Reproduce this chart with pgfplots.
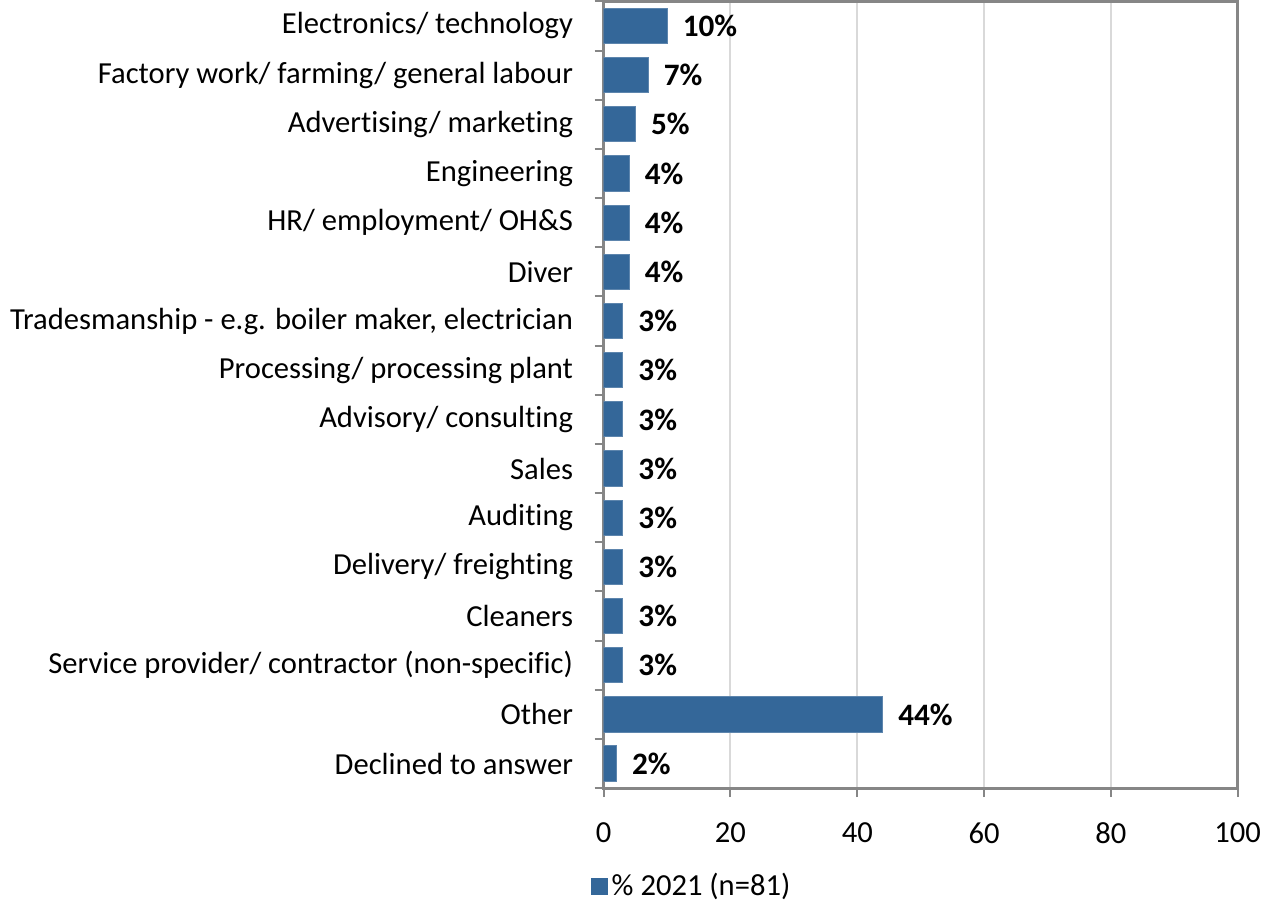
\documentclass[border=0pt]{standalone}
\usepackage{fontspec}
\setmainfont{Carlito}[Ligatures=CommonOff]
\usepackage{pgfplots}
\pgfplotsset{compat=1.18}
\definecolor{barblue}{RGB}{52,103,153}
\definecolor{axgray}{RGB}{134,134,134}
\definecolor{gridgray}{RGB}{217,217,217}
\begin{document}
\fontsize{15.2}{18}\selectfont
\begin{tikzpicture}
\begin{axis}[
    width=315pt, height=391pt, scale only axis,
    xbar, bar width=17.5pt,
    xmin=0, xmax=100, ymin=-0.5, ymax=15.5, y dir=reverse,
    xtick={0,20,...,100},
    ytick={0,...,15},
    yticklabels={Electronics/ technology, Factory work/ farming/ general labour,
        Advertising/ marketing, Engineering, HR/ employment/ OH\&S, Diver,
        {Tradesmanship - e.g. boiler maker, electrician}, Processing/ processing plant,
        Advisory/ consulting, Sales, Auditing, Delivery/ freighting, Cleaners,
        Service provider/ contractor (non-specific), Other, Declined to answer},
    minor ytick={-0.5,0.5,...,15.5},
    major y tick style={draw=none},
    minor y tick style={draw=axgray, line width=1pt},
    x tick style={draw=axgray, line width=1pt},
    tick pos=left,
    tick align=outside,
    major tick length=4.5pt,
    minor tick length=4.5pt,
    xmajorgrids, grid style={gridgray, line width=1pt},
    axis line style={axgray, line width=1.4pt},
    /pgf/number format/assume math mode=true,
    ticklabel style={font=\fontsize{15.2}{18}\selectfont},
    xticklabel style={yshift=-7.5pt},
    yticklabel style={xshift=-5.5pt},
    nodes near coords={\pgfmathprintnumber{\pgfplotspointmeta}\%},
    nodes near coords style={font=\bfseries\fontsize{15.5}{18}\selectfont, anchor=west, xshift=2.5pt},
    point meta=x,
    legend style={draw=none, at={(0.14,-0.125)}, anchor=center,
        font=\fontsize{15.2}{18}\selectfont},
    legend image code/.code={\fill[barblue] (0pt,-4pt) rectangle (8pt,4pt);},
]
\addplot[fill=barblue, draw=barblue!80!white, line width=0.5pt] coordinates {
    (10,0) (7,1) (5,2) (4,3) (4,4) (4,5) (3,6) (3,7)
    (3,8) (3,9) (3,10) (3,11) (3,12) (3,13) (44,14) (2,15)
};
\addlegendentry{\% 2021 (n=81)}
\end{axis}
\end{tikzpicture}
\end{document}
